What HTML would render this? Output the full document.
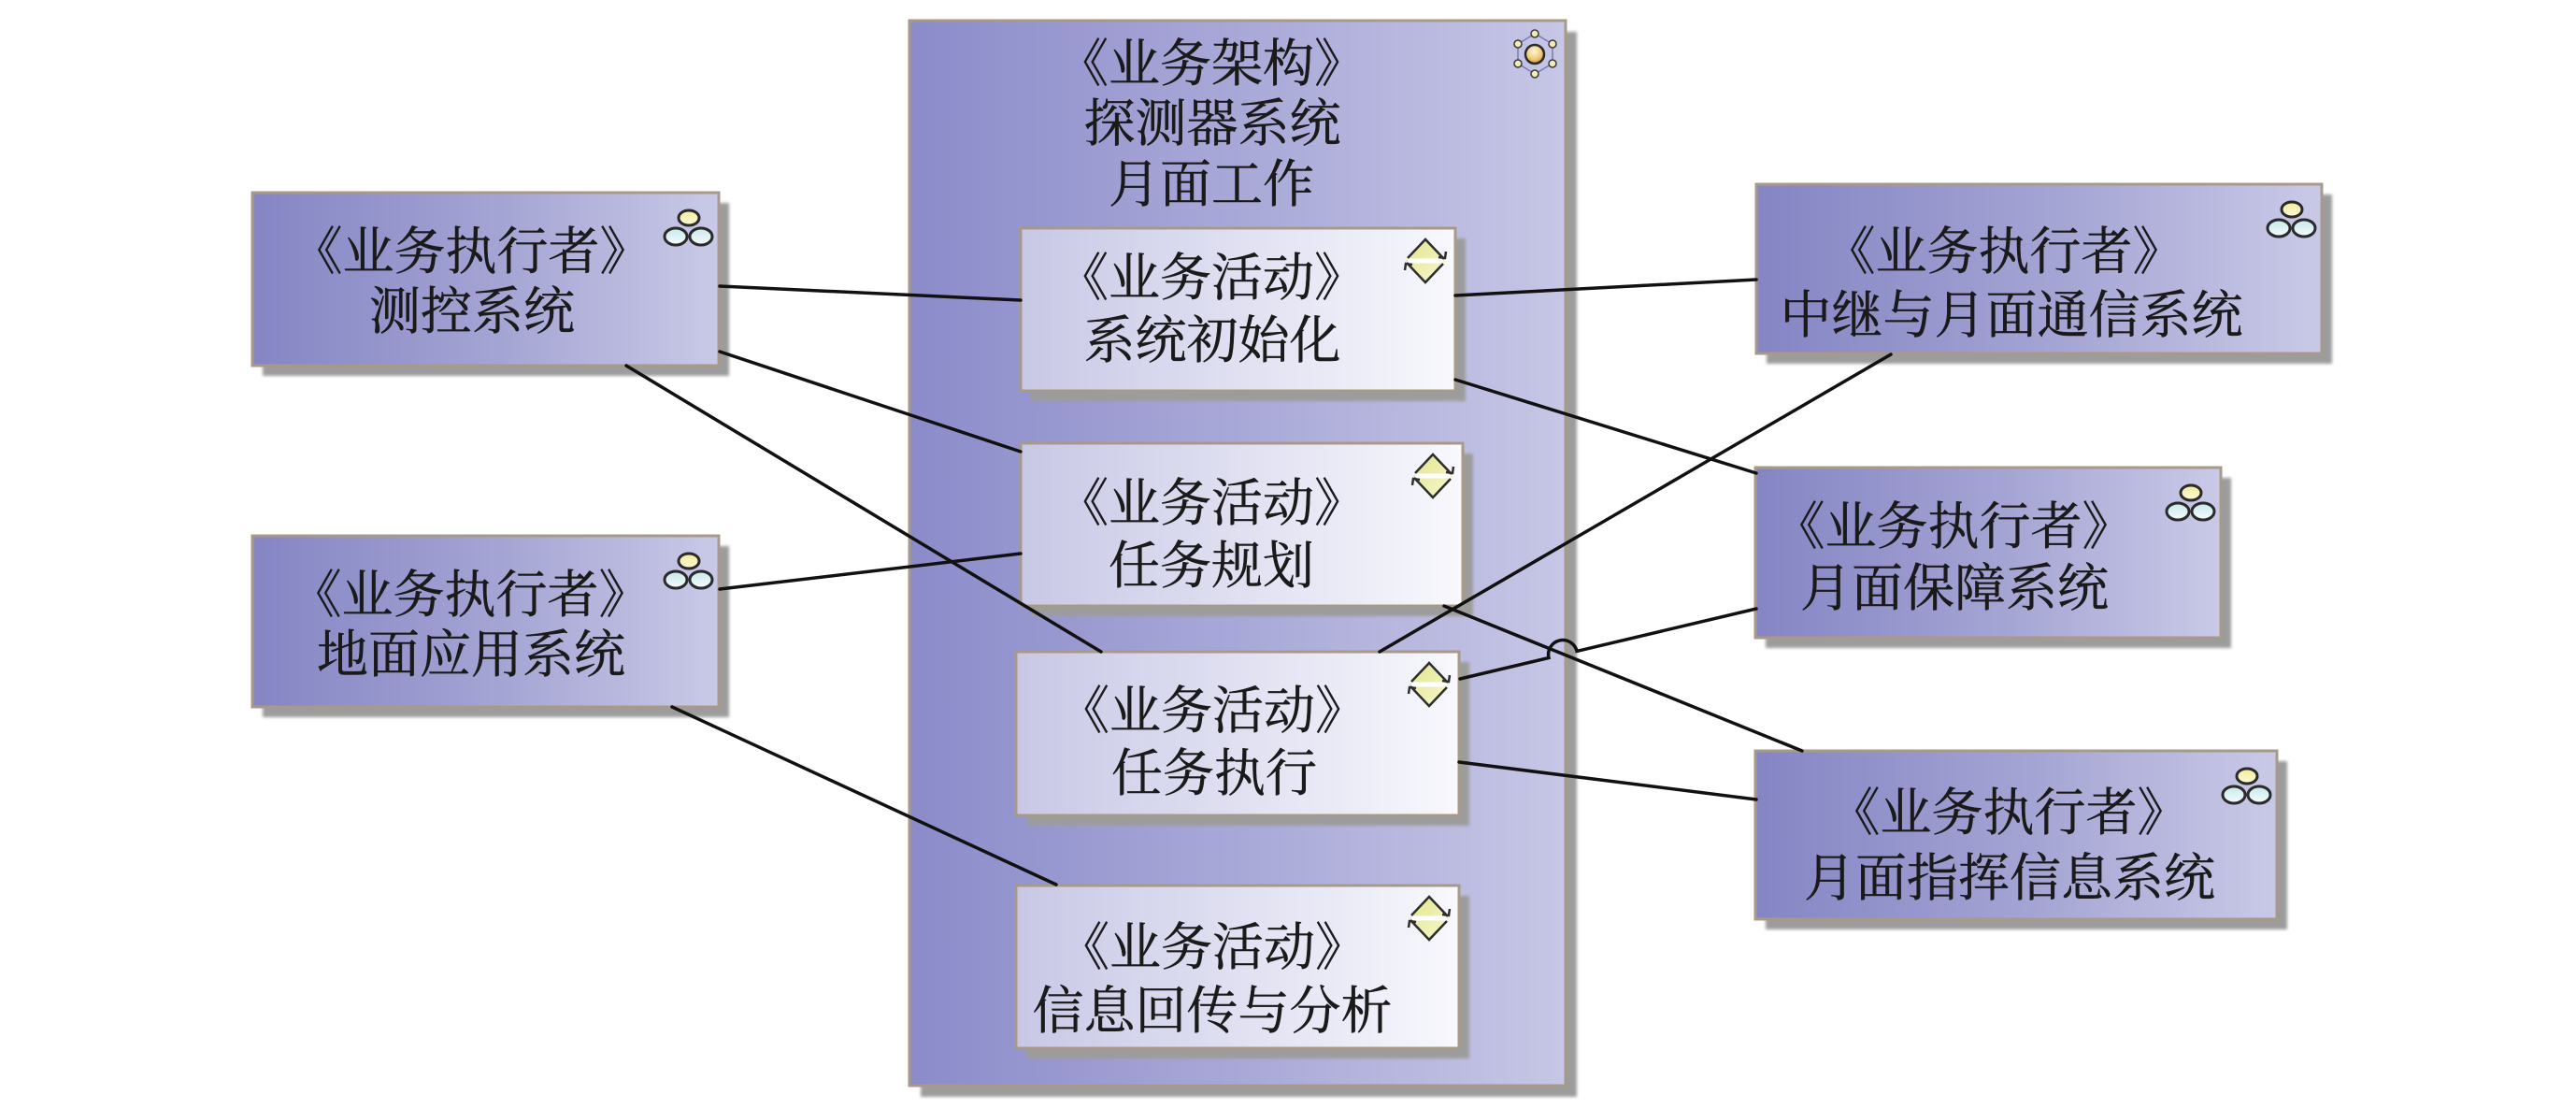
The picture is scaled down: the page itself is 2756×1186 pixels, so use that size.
<!DOCTYPE html>
<html>
<head>
<meta charset="utf-8">
<style>
  html,body{margin:0;padding:0;background:#ffffff;}
  svg{display:block;}
  text{font-family:"Liberation Serif","Noto Serif CJK SC",serif;font-size:55px;fill:#1a1a1a;stroke:#1a1a1a;stroke-width:0.5px;}
</style>
</head>
<body>
<svg width="2756" height="1186" viewBox="0 0 2756 1186" xmlns="http://www.w3.org/2000/svg">
  <defs>
    <linearGradient id="gA" x1="0" y1="0" x2="1" y2="0">
      <stop offset="0" stop-color="#8585c4"/>
      <stop offset="0.5" stop-color="#a2a2d3"/>
      <stop offset="1" stop-color="#c9c9e7"/>
    </linearGradient>
    <linearGradient id="gC" x1="0" y1="0" x2="1" y2="0">
      <stop offset="0" stop-color="#8b8bca"/>
      <stop offset="1" stop-color="#c6c6e6"/>
    </linearGradient>
    <linearGradient id="gT" x1="0" y1="0" x2="1" y2="0">
      <stop offset="0" stop-color="#c8c8e6"/>
      <stop offset="1" stop-color="#f8f8fd"/>
    </linearGradient>
    <linearGradient id="gY" x1="0" y1="0" x2="0" y2="1">
      <stop offset="0" stop-color="#f3eb9a"/>
      <stop offset="1" stop-color="#fcfad8"/>
    </linearGradient>
    <linearGradient id="gCy" x1="0" y1="0" x2="0" y2="1">
      <stop offset="0" stop-color="#c8e8ea"/>
      <stop offset="1" stop-color="#f4fcfc"/>
    </linearGradient>
    <linearGradient id="gD" x1="0" y1="0" x2="1" y2="1">
      <stop offset="0" stop-color="#e2e48a"/>
      <stop offset="1" stop-color="#f8f8d2"/>
    </linearGradient>
    <radialGradient id="gBall" cx="0.45" cy="0.35" r="0.7">
      <stop offset="0" stop-color="#fff6d8"/>
      <stop offset="0.6" stop-color="#f0c878"/>
      <stop offset="1" stop-color="#c08a30"/>
    </radialGradient>
    <filter id="blur" x="-5%" y="-5%" width="110%" height="110%">
      <feGaussianBlur stdDeviation="1.5"/>
    </filter>
  </defs>

  <!-- Container -->
  <rect x="985" y="34" width="702" height="1139" fill="#9c9c9c" filter="url(#blur)"/>
  <rect x="973" y="22" width="702" height="1139" fill="url(#gC)" stroke="#a89a88" stroke-width="3"/>

  <!-- Actor shadows -->
  <g fill="#9c9c9c" filter="url(#blur)">
    <rect x="281" y="217" width="499" height="185"/>
    <rect x="281" y="584" width="499" height="183"/>
    <rect x="1890" y="208" width="605" height="181"/>
    <rect x="1889" y="511" width="498" height="182"/>
    <rect x="1889" y="814" width="558" height="180"/>
  </g>
  <!-- Actors -->
  <g fill="url(#gA)" stroke="#a89a88" stroke-width="3">
    <rect x="270" y="206" width="499" height="185"/>
    <rect x="270" y="573" width="499" height="183"/>
    <rect x="1879" y="197" width="605" height="181"/>
    <rect x="1878" y="500" width="498" height="182"/>
    <rect x="1878" y="803" width="558" height="180"/>
  </g>

  <!-- Activity shadows -->
  <g fill="#9c9c9c" filter="url(#blur)">
    <rect x="1103" y="255" width="465" height="174"/>
    <rect x="1103" y="485" width="473" height="174"/>
    <rect x="1098" y="708" width="474" height="175"/>
    <rect x="1098" y="958" width="474" height="174"/>
  </g>
  <!-- Activities -->
  <g fill="url(#gT)" stroke="#a89a88" stroke-width="3">
    <rect x="1092" y="244" width="465" height="174"/>
    <rect x="1092" y="474" width="473" height="174"/>
    <rect x="1087" y="697" width="474" height="175"/>
    <rect x="1087" y="947" width="474" height="174"/>
  </g>

  <!-- Connectors -->
  <g stroke="#111" stroke-width="3.5" fill="none" stroke-linecap="round">
    <line x1="770" y1="306" x2="1092" y2="321"/>
    <line x1="770" y1="376" x2="1092" y2="483"/>
    <line x1="670" y1="391" x2="1178" y2="697"/>
    <line x1="770" y1="630" x2="1092" y2="592"/>
    <line x1="719" y1="756" x2="1130" y2="946"/>
    <line x1="1557" y1="316" x2="1879" y2="299"/>
    <line x1="1557" y1="406" x2="1879" y2="506"/>
    <line x1="1476" y1="697" x2="2023" y2="379"/>
    <path d="M1562,726 L1657,703.5 A15,15 0 0,1 1687,696.4 L1879,651"/>
    <line x1="1545" y1="648" x2="1928" y2="803"/>
    <line x1="1561" y1="815" x2="1879" y2="855"/>
  </g>

  <!-- Gear icon (container) -->
  <g>
    <polygon points="1642,36 1661,47 1661,68 1642,79 1624,68 1624,47" fill="none" stroke="#7a7ab8" stroke-width="1.5"/>
    <circle cx="1642" cy="58" r="10" fill="url(#gBall)" stroke="#2a2a2a" stroke-width="2.5"/>
    <g fill="#f4ecb0" stroke="#3a3a3a" stroke-width="1.5">
      <circle cx="1642" cy="36" r="4"/>
      <circle cx="1661" cy="47" r="4"/>
      <circle cx="1661" cy="68" r="4"/>
      <circle cx="1642" cy="79" r="4"/>
      <circle cx="1624" cy="68" r="4"/>
      <circle cx="1624" cy="47" r="4"/>
    </g>
  </g>

  <!-- Actor icons -->
  <g stroke="#2a2a2a" stroke-width="3">
    <g transform="translate(736,243)">
      <ellipse cx="1" cy="-10" rx="11" ry="8" fill="url(#gY)"/>
      <ellipse cx="-13" cy="10" rx="12" ry="9" fill="url(#gCy)"/>
      <ellipse cx="14" cy="10" rx="12" ry="9" fill="url(#gCy)"/>
    </g>
    <g transform="translate(736,610)">
      <ellipse cx="1" cy="-10" rx="11" ry="8" fill="url(#gY)"/>
      <ellipse cx="-13" cy="10" rx="12" ry="9" fill="url(#gCy)"/>
      <ellipse cx="14" cy="10" rx="12" ry="9" fill="url(#gCy)"/>
    </g>
    <g transform="translate(2451,234)">
      <ellipse cx="1" cy="-10" rx="11" ry="8" fill="url(#gY)"/>
      <ellipse cx="-13" cy="10" rx="12" ry="9" fill="url(#gCy)"/>
      <ellipse cx="14" cy="10" rx="12" ry="9" fill="url(#gCy)"/>
    </g>
    <g transform="translate(2343,537)">
      <ellipse cx="1" cy="-10" rx="11" ry="8" fill="url(#gY)"/>
      <ellipse cx="-13" cy="10" rx="12" ry="9" fill="url(#gCy)"/>
      <ellipse cx="14" cy="10" rx="12" ry="9" fill="url(#gCy)"/>
    </g>
    <g transform="translate(2403,840)">
      <ellipse cx="1" cy="-10" rx="11" ry="8" fill="url(#gY)"/>
      <ellipse cx="-13" cy="10" rx="12" ry="9" fill="url(#gCy)"/>
      <ellipse cx="14" cy="10" rx="12" ry="9" fill="url(#gCy)"/>
    </g>
  </g>

  <!-- Activity icons -->
  <g>
    <g transform="translate(1525,279)">
      <polygon points="0,-23 21,0 0,23 -21,0" fill="url(#gD)"/>
      <rect x="-19" y="-2.5" width="38" height="5" fill="#ffffff"/>
      <path d="M-19,-3 L0,-23 L20,-2" fill="none" stroke="#2e2e2e" stroke-width="2.5"/>
      <path d="M14,-4 L21,-3 L22,-10" fill="none" stroke="#2e2e2e" stroke-width="2.5"/>
      <path d="M19,3 L0,23 L-20,2" fill="none" stroke="#2e2e2e" stroke-width="2.5"/>
      <path d="M-14,4 L-21,3 L-22,10" fill="none" stroke="#2e2e2e" stroke-width="2.5"/>
    </g>
    <g transform="translate(1533,509)">
      <polygon points="0,-23 21,0 0,23 -21,0" fill="url(#gD)"/>
      <rect x="-19" y="-2.5" width="38" height="5" fill="#ffffff"/>
      <path d="M-19,-3 L0,-23 L20,-2" fill="none" stroke="#2e2e2e" stroke-width="2.5"/>
      <path d="M14,-4 L21,-3 L22,-10" fill="none" stroke="#2e2e2e" stroke-width="2.5"/>
      <path d="M19,3 L0,23 L-20,2" fill="none" stroke="#2e2e2e" stroke-width="2.5"/>
      <path d="M-14,4 L-21,3 L-22,10" fill="none" stroke="#2e2e2e" stroke-width="2.5"/>
    </g>
    <g transform="translate(1529,732)">
      <polygon points="0,-23 21,0 0,23 -21,0" fill="url(#gD)"/>
      <rect x="-19" y="-2.5" width="38" height="5" fill="#ffffff"/>
      <path d="M-19,-3 L0,-23 L20,-2" fill="none" stroke="#2e2e2e" stroke-width="2.5"/>
      <path d="M14,-4 L21,-3 L22,-10" fill="none" stroke="#2e2e2e" stroke-width="2.5"/>
      <path d="M19,3 L0,23 L-20,2" fill="none" stroke="#2e2e2e" stroke-width="2.5"/>
      <path d="M-14,4 L-21,3 L-22,10" fill="none" stroke="#2e2e2e" stroke-width="2.5"/>
    </g>
    <g transform="translate(1529,982)">
      <polygon points="0,-23 21,0 0,23 -21,0" fill="url(#gD)"/>
      <rect x="-19" y="-2.5" width="38" height="5" fill="#ffffff"/>
      <path d="M-19,-3 L0,-23 L20,-2" fill="none" stroke="#2e2e2e" stroke-width="2.5"/>
      <path d="M14,-4 L21,-3 L22,-10" fill="none" stroke="#2e2e2e" stroke-width="2.5"/>
      <path d="M19,3 L0,23 L-20,2" fill="none" stroke="#2e2e2e" stroke-width="2.5"/>
      <path d="M-14,4 L-21,3 L-22,10" fill="none" stroke="#2e2e2e" stroke-width="2.5"/>
    </g>
  </g>

  <!-- Texts -->
  <g text-anchor="middle">
    <text x="1296" y="87">《业务架构》</text>
    <text x="1297" y="151">探测器系统</text>
    <text x="1296" y="216">月面工作</text>

    <text x="504" y="288">《业务执行者》</text>
    <text x="505" y="352">测控系统</text>

    <text x="503" y="655">《业务执行者》</text>
    <text x="504" y="719">地面应用系统</text>

    <text x="2144" y="288">《业务执行者》</text>
    <text x="2152" y="356">中继与月面通信系统</text>

    <text x="2090" y="582">《业务执行者》</text>
    <text x="2091" y="648">月面保障系统</text>

    <text x="2149" y="888">《业务执行者》</text>
    <text x="2150" y="958">月面指挥信息系统</text>

    <text x="1296" y="316">《业务活动》</text>
    <text x="1297" y="383">系统初始化</text>

    <text x="1296" y="557">《业务活动》</text>
    <text x="1296" y="624">任务规划</text>

    <text x="1297" y="779">《业务活动》</text>
    <text x="1299" y="846">任务执行</text>

    <text x="1297" y="1032">《业务活动》</text>
    <text x="1297" y="1100">信息回传与分析</text>
  </g>
</svg>
</body>
</html>
